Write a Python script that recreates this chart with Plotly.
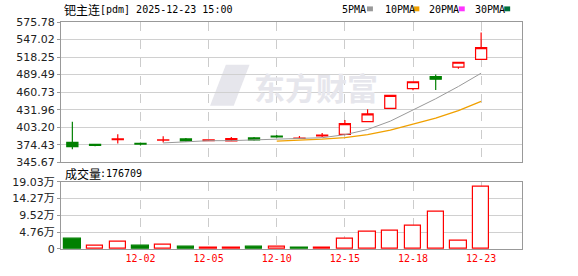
import plotly.graph_objects as go
import pandas as pd

# ---------------- data ----------------
dates = ["2025-11-27", "2025-11-28", "2025-12-01", "2025-12-02", "2025-12-03",
         "2025-12-04", "2025-12-05", "2025-12-08", "2025-12-09", "2025-12-10",
         "2025-12-11", "2025-12-12", "2025-12-15", "2025-12-16", "2025-12-17",
         "2025-12-18", "2025-12-19", "2025-12-22", "2025-12-23"]
opens = [378.2, 375.0, 383.0, 376.6, 381.8, 384.0, 381.0, 380.8, 385.6, 388.8,
         385.0, 388.8, 391.5, 412.3, 434.1, 466.6, 486.3, 501.8, 514.6]
highs = [412.3, 375.8, 391.6, 378.0, 388.4, 385.5, 383.0, 387.2, 387.2, 390.4,
         388.8, 393.6, 414.9, 432.5, 456.0, 478.0, 489.5, 510.0, 558.7]
lows = [367.0, 372.0, 376.5, 373.3, 378.2, 379.3, 380.0, 380.0, 381.0, 386.0,
        384.5, 387.2, 390.0, 412.0, 433.5, 463.9, 464.4, 499.1, 514.0]
closes = [371.3, 373.5, 384.0, 375.6, 382.6, 380.8, 382.5, 384.5, 382.4, 387.2,
          385.5, 390.4, 409.1, 425.1, 455.5, 477.8, 482.0, 509.8, 533.8]
volumes = [29000, 9500, 20500, 7800, 12500, 5000, 2500, 2500, 5000, 5000,
           3000, 3000, 28000, 50000, 53000, 67000, 105000, 22600, 176709]

price_ticks = [345.67, 374.43, 403.20, 431.96, 460.73, 489.49, 518.25, 547.02, 575.78]
vol_ticks = [0, 47575, 95150, 142725, 190300]
vol_tick_labels = ["0", "4.76万", "9.52万", "14.27万", "19.03万"]
date_tick_idx = [3, 6, 9, 12, 15, 18]

title_name = "钯主连"
title_rest = "[pdm] 2025-12-23 15:00"
vol_label = "成交量:176709"
ma_names = ["5PMA", "10PMA", "20PMA", "30PMA"]
ma_colors = ["#999999", "#f0a000", "#ff33ff", "#00703c"]

RED = "#ff0000"
GREEN = "#008000"

x = list(range(len(dates)))
ma5 = pd.Series(closes).rolling(5).mean()
ma10 = pd.Series(closes).rolling(10).mean()

vol_up = [False] + [closes[i] > closes[i - 1] for i in range(1, len(closes))]
vol_fill = ["white" if u else GREEN for u in vol_up]
vol_line = [RED if u else GREEN for u in vol_up]

# ---------------- geometry helpers ----------------
W, H = 578, 276
ML, MR, MT, MB = 55, 56, 22, 21
PW, PH = W - ML - MR, H - MT - MB


def px(xp):
    return (xp - ML) / PW


def py(yp):
    return (H - MB - yp) / PH


fig = go.Figure()

fig.add_trace(go.Scatter(x=x, y=ma5, mode="lines", line=dict(color="#999999", width=1),
                         hoverinfo="skip", xaxis="x", yaxis="y"))
fig.add_trace(go.Scatter(x=x, y=ma10, mode="lines", line=dict(color="#f0a000", width=1.3),
                         hoverinfo="skip", xaxis="x", yaxis="y"))

fig.add_trace(go.Candlestick(
    x=x, open=opens, high=highs, low=lows, close=closes,
    increasing=dict(line=dict(color=RED, width=1.2), fillcolor="white"),
    decreasing=dict(line=dict(color=GREEN, width=1.2), fillcolor=GREEN),
    whiskerwidth=0, hoverinfo="skip", xaxis="x", yaxis="y"))

fig.add_trace(go.Bar(
    x=x, y=volumes, width=0.72,
    marker=dict(color=vol_fill, line=dict(color=vol_line, width=1.2)),
    hoverinfo="skip", xaxis="x2", yaxis="y2"))

xr = [-0.5, 19.8]
tick_text = [dates[i][5:] for i in date_tick_idx]
common_x = dict(range=xr, tickvals=date_tick_idx, showgrid=True, gridcolor="#cccccc",
                griddash="dash", gridwidth=1, showline=True, linecolor="#999999",
                mirror=True, zeroline=False, ticks="", fixedrange=True)

axis_font = dict(family="DejaVu Sans, Noto Sans CJK SC", size=11, color="#222222")

fig.update_layout(
    width=W, height=H,
    margin=dict(l=ML, r=MR, t=MT, b=MB),
    paper_bgcolor="white", plot_bgcolor="white",
    showlegend=False,
    bargap=0,
    xaxis=dict(**common_x, domain=[0, 1], anchor="y", showticklabels=False,
               rangeslider=dict(visible=False)),
    xaxis2=dict(**common_x, domain=[0, 1], anchor="y2", ticktext=tick_text,
                tickfont=dict(family="DejaVu Sans Mono", size=10, color=RED)),
    yaxis=dict(domain=[py(166), 1], range=[price_ticks[0], price_ticks[-1]],
               tickvals=price_ticks, ticktext=[f"{v:.2f}" for v in price_ticks],
               tickfont=axis_font, showgrid=True, gridcolor="#d0d0d0",
               showline=True, linecolor="#999999", mirror=True, zeroline=False,
               ticks="outside", ticklen=3, tickcolor="#999999", fixedrange=True),
    yaxis2=dict(domain=[0, py(186)], range=[0, vol_ticks[-1]],
                tickvals=vol_ticks, ticktext=vol_tick_labels,
                tickfont=axis_font, showgrid=True, gridcolor="#d0d0d0",
                showline=True, linecolor="#999999", mirror=True, zeroline=False,
                ticks="outside", ticklen=3, tickcolor="#999999", fixedrange=True),
)

annotations = []
shapes = []

# watermark
shapes.append(dict(type="path", xref="paper", yref="paper", layer="below",
                   path=(f"M {px(222)},{py(66)} L {px(246)},{py(66)} L {px(230)},{py(108)} "
                         f"L {px(206)},{py(108)} Z"),
                   fillcolor="#e6e6ec", line=dict(width=0)))
annotations.append(dict(text="<b>东方财富</b>", x=px(248), y=py(88), xref="paper", yref="paper",
                        xanchor="left", yanchor="middle", showarrow=False,
                        font=dict(family="Noto Sans CJK SC", size=31, color="#e6e6ec")))

# title
annotations.append(dict(text=title_name, x=px(56), y=py(9), xref="paper", yref="paper",
                        xanchor="left", yanchor="middle", showarrow=False,
                        font=dict(family="Noto Sans CJK SC", size=12, color="#000000")))
annotations.append(dict(text=title_rest, x=px(92), y=py(9), xref="paper", yref="paper",
                        xanchor="left", yanchor="middle", showarrow=False,
                        font=dict(family="DejaVu Sans Mono", size=10, color="#000000")))

# MA legend
leg_text_x = [338, 381, 426, 472]
leg_sq_x = [365, 412, 458, 504]
for name, col, tx, sx in zip(ma_names, ma_colors, leg_text_x, leg_sq_x):
    annotations.append(dict(text=name, x=px(tx), y=py(9), xref="paper", yref="paper",
                            xanchor="left", yanchor="middle", showarrow=False,
                            font=dict(family="DejaVu Sans Mono", size=10, color="#000000")))
    shapes.append(dict(type="rect", xref="paper", yref="paper",
                       x0=px(sx), x1=px(sx + 6), y0=py(11), y1=py(6),
                       fillcolor=col, line=dict(width=0)))

# volume label
annotations.append(dict(text="成交量", x=px(57), y=py(177), xref="paper", yref="paper",
                        xanchor="left", yanchor="middle", showarrow=False,
                        font=dict(family="Noto Sans CJK SC", size=12, color="#000000")))
annotations.append(dict(text=vol_label[3:], x=px(92), y=py(177), xref="paper", yref="paper",
                        xanchor="left", yanchor="middle", showarrow=False,
                        font=dict(family="DejaVu Sans Mono", size=10, color="#000000")))

fig.update_layout(annotations=annotations, shapes=shapes)
fig.write_html("out.html")
